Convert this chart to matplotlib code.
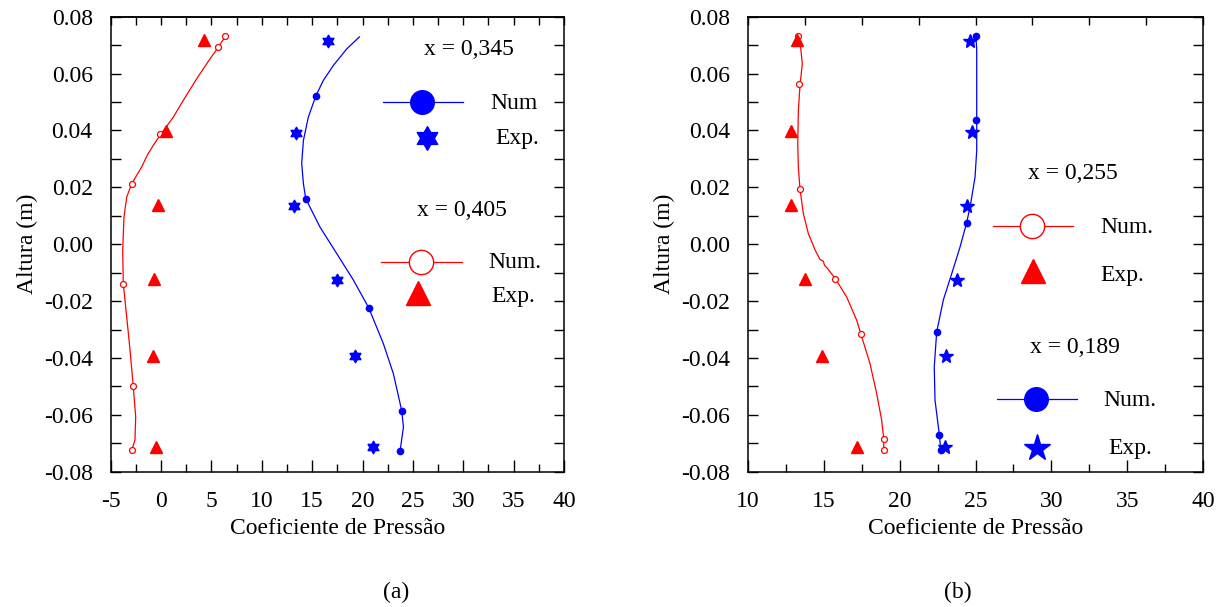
import numpy as np
import matplotlib
matplotlib.use("Agg")
import matplotlib.pyplot as plt
from matplotlib.path import Path
from matplotlib.ticker import MultipleLocator, FormatStrFormatter, FixedLocator

plt.rcParams['font.family'] = ['Liberation Serif', 'DejaVu Serif']
plt.rcParams['axes.unicode_minus'] = False

# ---------------- data: panel (a) ----------------
# x = 0,405 numerical (red, open circles) - curve
a_red_num_x = [6.38, 5.69, 4.86, 3.54, 2.21, 1.22, 0.06, -0.77, -1.37, -1.92, -2.91, -3.41,
               -3.68, -3.81, -3.75, -3.41, -3.08, -2.76, -2.52, -2.59, -2.91]
a_red_num_y = [0.0731, 0.0693, 0.0652, 0.0582, 0.0506, 0.0447, 0.0391, 0.0348, 0.0313, 0.0272,
               0.0213, 0.0166, 0.0096, -0.0021, -0.0139, -0.0256, -0.0373, -0.0500, -0.0607,
               -0.0689, -0.0724]
a_red_mk_x = [6.38, 5.69, -0.10, -2.91, -3.75, -2.76, -2.91]
a_red_mk_y = [0.0731, 0.0693, 0.0389, 0.0213, -0.0139, -0.0500, -0.0724]
# x = 0,405 experimental (red triangles)
a_red_exp_x = [4.30, 0.49, -0.30, -0.70, -0.77, -0.47]
a_red_exp_y = [0.0717, 0.0398, 0.0138, -0.0123, -0.0393, -0.0713]

# x = 0,345 numerical (blue, filled circles) - curve
a_blue_num_x = [19.69, 18.44, 17.11, 16.11, 15.36, 14.62, 14.13, 13.96, 14.13, 14.36, 15.78,
                17.44, 19.09, 20.62, 22.07, 23.06, 23.90, 24.06, 23.73]
a_blue_num_y = [0.0729, 0.0687, 0.0629, 0.0576, 0.0521, 0.0447, 0.0365, 0.0284, 0.0213, 0.0160,
                0.0060, -0.0033, -0.0126, -0.0224, -0.0350, -0.0455, -0.0587, -0.0643, -0.0727]
a_blue_mk_x = [15.36, 14.36, 20.62, 23.90, 23.73]
a_blue_mk_y = [0.0521, 0.0160, -0.0224, -0.0587, -0.0727]
# x = 0,345 experimental (blue hexagrams)
a_blue_exp_x = [16.55, 13.40, 13.20, 17.47, 19.29, 21.05]
a_blue_exp_y = [0.0715, 0.0392, 0.0134, -0.0125, -0.0394, -0.0713]

# ---------------- data: panel (b) ----------------
# x = 0,255 numerical (red, open circles)
b_red_num_x = [13.28, 13.47, 13.58, 13.43, 13.32, 13.28, 13.32, 13.43, 13.65, 13.98, 14.42, 14.75,
               14.97, 15.04, 15.19, 15.76, 16.51, 17.17, 17.45, 18.04, 18.48, 18.81, 18.95, 18.95]
b_red_num_y = [0.0731, 0.0693, 0.0635, 0.0559, 0.0471, 0.0353, 0.0271, 0.0193, 0.0107, 0.0037,
               -0.0020, -0.0054, -0.0060, -0.0074, -0.0082, -0.0121, -0.0186, -0.0268, -0.0317,
               -0.0419, -0.0524, -0.0618, -0.0685, -0.0724]
b_red_mk_x = [13.28, 13.38, 13.43, 15.76, 17.45, 18.95, 18.95]
b_red_mk_y = [0.0731, 0.0562, 0.0193, -0.0121, -0.0317, -0.0685, -0.0724]
# x = 0,255 experimental (red triangles)
b_red_exp_x = [13.21, 12.84, 12.86, 13.78, 14.88, 17.19]
b_red_exp_y = [0.0717, 0.0397, 0.0137, -0.0123, -0.0393, -0.0713]

# x = 0,189 numerical (blue, filled circles)
b_blue_num_x = [25.03, 25.08, 25.08, 25.08, 24.97, 24.68, 24.42, 23.98, 23.43, 22.88, 22.44,
                22.28, 22.33, 22.62, 22.71]
b_blue_num_y = [0.0731, 0.0682, 0.0438, 0.0330, 0.0236, 0.0142, 0.0076, -0.0010, -0.0104,
                -0.0196, -0.0309, -0.0432, -0.0548, -0.0672, -0.0724]
b_blue_mk_x = [25.03, 25.01, 24.42, 22.44, 22.62, 22.71]
b_blue_mk_y = [0.0731, 0.0438, 0.0076, -0.0309, -0.0672, -0.0724]
# x = 0,189 experimental (blue stars)
b_blue_exp_x = [24.64, 24.75, 24.42, 23.80, 23.05, 22.99]
b_blue_exp_y = [0.0715, 0.0395, 0.0134, -0.0125, -0.0394, -0.0713]

xlabel = "Coeficiente de Pressão"
ylabel = "Altura (m)"

RED = (1, 0, 0)
BLUE = (0, 0, 1)
FS = 17

# hexagram marker (Star of David)
ang = np.deg2rad(90 + 30 * np.arange(12))
rad = np.where(np.arange(12) % 2 == 0, 1.0, 1.0 / np.sqrt(3))
verts = np.column_stack([rad * np.cos(ang), rad * np.sin(ang)])
verts = np.vstack([verts, verts[:1]])
codes = [Path.MOVETO] + [Path.LINETO] * 11 + [Path.CLOSEPOLY]
HEX = Path(verts, codes)

fig = plt.figure(figsize=(12.19, 6.07), dpi=100)
W, H = 1219, 607


def make_axes(l, r, t, b):
    return fig.add_axes([l / W, 1 - b / H, (r - l) / W, (b - t) / H])


axA = make_axes(110.7, 564, 16.7, 471.7)
axB = make_axes(748, 1203, 16.7, 471.7)


def style(ax, xlim, top_ticks):
    ax.set_xlim(*xlim)
    ax.set_ylim(-0.08, 0.08)
    ax.xaxis.set_major_locator(MultipleLocator(5))
    ax.xaxis.set_minor_locator(MultipleLocator(2.5))
    ax.yaxis.set_major_locator(MultipleLocator(0.02))
    ax.yaxis.set_minor_locator(MultipleLocator(0.01))
    ax.yaxis.set_major_formatter(FormatStrFormatter('%.2f'))
    ax.xaxis.set_major_formatter(FormatStrFormatter('%d'))
    ax.tick_params(axis='x', which='major', direction='in', length=8.6, width=1.0,
                   top=False, bottom=True, labelsize=FS, pad=14)
    ax.tick_params(axis='x', which='minor', direction='in', length=5.8, width=1.0,
                   top=False, bottom=True)
    ax.tick_params(axis='y', which='both', direction='in', length=7, width=1.0,
                   left=True, right=True, labelsize=FS, pad=13)
    for s in ax.spines.values():
        s.set_linewidth(1.1)
    sec = ax.secondary_xaxis('top')
    sec.xaxis.set_major_locator(FixedLocator(top_ticks))
    sec.tick_params(axis='x', direction='in', length=5.8, width=1.0, labeltop=False)
    sec.spines['top'].set_linewidth(1.1)
    ax.set_xlabel(xlabel, fontsize=FS, labelpad=4)


style(axA, (-5, 40), np.arange(-5, 40.01, 2.5))
style(axB, (10, 40), np.linspace(10, 40, 9))

axA.set_ylabel(ylabel, fontsize=FS, labelpad=4)
axB.set_ylabel(ylabel, fontsize=FS, labelpad=4)

LW = 0.9

# panel (a) data
axA.plot(a_red_num_x, a_red_num_y, color=RED, lw=LW)
axA.plot(a_red_mk_x, a_red_mk_y, ls='none', marker='o', ms=4.3, mfc='white', mec=RED, mew=0.9)
axA.plot(a_red_exp_x, a_red_exp_y, ls='none', marker='^', ms=8, color=RED)
axA.plot(a_blue_num_x, a_blue_num_y, color=BLUE, lw=LW)
axA.plot(a_blue_mk_x, a_blue_mk_y, ls='none', marker='o', ms=4.5, color=BLUE)
axA.plot(a_blue_exp_x, a_blue_exp_y, ls='none', marker=HEX, ms=9, color=BLUE)

# panel (b) data
axB.plot(b_red_num_x, b_red_num_y, color=RED, lw=LW)
axB.plot(b_red_mk_x, b_red_mk_y, ls='none', marker='o', ms=4.3, mfc='white', mec=RED, mew=0.9)
axB.plot(b_red_exp_x, b_red_exp_y, ls='none', marker='^', ms=8, color=RED)
axB.plot(b_blue_num_x, b_blue_num_y, color=BLUE, lw=LW)
axB.plot(b_blue_mk_x, b_blue_mk_y, ls='none', marker='o', ms=4.5, color=BLUE)
axB.plot(b_blue_exp_x, b_blue_exp_y, ls='none', marker='*', ms=10, color=BLUE)


def legend_line(ax, x0, x1, xm, y, color, filled):
    ax.plot([x0, x1], [y, y], color=color, lw=LW, transform=ax.transAxes, clip_on=False)
    if filled:
        ax.plot([xm], [y], marker='o', ms=17, color=color, transform=ax.transAxes, clip_on=False)
    else:
        ax.plot([xm], [y], marker='o', ms=17.5, mfc='white', mec=color, mew=1.0,
                transform=ax.transAxes, clip_on=False)


def txt(ax, x, y, s, ha='left'):
    ax.text(x, y, s, transform=ax.transAxes, fontsize=FS, ha=ha, va='center')


# legend (a)
txt(axA, 0.790, 0.927, "x = 0,345", ha='center')
legend_line(axA, 0.601, 0.777, 0.687, 0.812, BLUE, True)
txt(axA, 0.837, 0.810, "Num")
axA.plot([0.698], [0.733], marker=HEX, ms=17, color=BLUE, transform=axA.transAxes, clip_on=False)
txt(axA, 0.848, 0.733, "Exp.")
txt(axA, 0.775, 0.575, "x = 0,405", ha='center')
legend_line(axA, 0.596, 0.774, 0.685, 0.461, RED, False)
txt(axA, 0.833, 0.459, "Num.")
axA.plot([0.677], [0.392], marker='^', ms=17, color=RED, transform=axA.transAxes, clip_on=False)
txt(axA, 0.840, 0.384, "Exp.")

# legend (b)
txt(axB, 0.714, 0.656, "x = 0,255", ha='center')
legend_line(axB, 0.538, 0.714, 0.624, 0.540, RED, False)
txt(axB, 0.774, 0.537, "Num.")
axB.plot([0.626], [0.441], marker='^', ms=17, color=RED, transform=axB.transAxes, clip_on=False)
txt(axB, 0.774, 0.432, "Exp.")
txt(axB, 0.719, 0.274, "x = 0,189", ha='center')
legend_line(axB, 0.547, 0.723, 0.633, 0.160, BLUE, True)
txt(axB, 0.782, 0.156, "Num.")
axB.plot([0.635], [0.052], marker='*', ms=20, color=BLUE, transform=axB.transAxes, clip_on=False)
txt(axB, 0.793, 0.050, "Exp.")

# panel labels
fig.text(396 / W, 1 - 592 / H, "(a)", fontsize=FS, ha='center', va='center')
fig.text(958 / W, 1 - 592 / H, "(b)", fontsize=FS, ha='center', va='center')

fig.savefig("out.png", dpi=100, facecolor='white')
